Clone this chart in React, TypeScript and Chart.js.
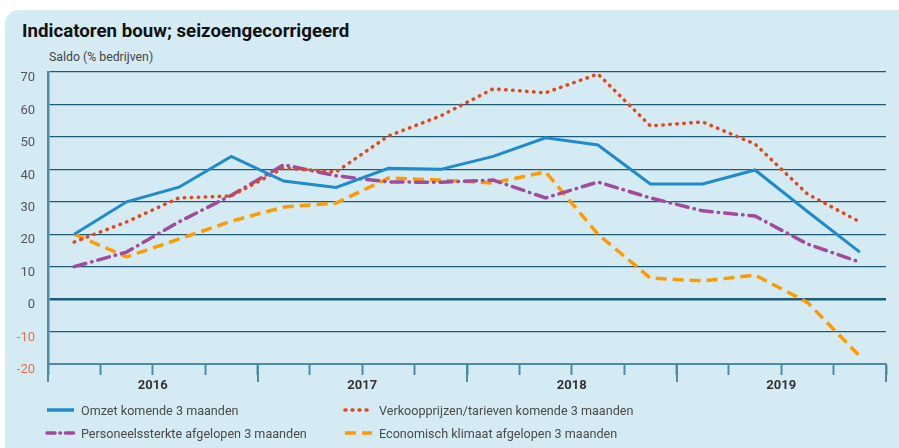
import React, { useEffect, useRef } from "react";
import { Chart, registerables } from "chart.js";
Chart.register(...registerables);

// Quarterly data 2016 K1 .. 2019 K4
const quarters = [
  "2016 K1", "2016 K2", "2016 K3", "2016 K4",
  "2017 K1", "2017 K2", "2017 K3", "2017 K4",
  "2018 K1", "2018 K2", "2018 K3", "2018 K4",
  "2019 K1", "2019 K2", "2019 K3", "2019 K4",
];
const yearLabels = ["2016", "2017", "2018", "2019"];
const yTicks = [-20, -10, 0, 10, 20, 30, 40, 50, 60, 70];

const omzet = [20, 30, 34.5, 44, 36.4, 34.4, 40.3, 40, 44, 49.7, 47.5, 35.5, 35.5, 39.8, 27, 14.5];
const verkoopprijzen = [17.6, 23.8, 31.2, 31.8, 40.4, 39.2, 50.3, 56.5, 64.8, 63.6, 69.4, 53.4, 54.6, 47.8, 32.4, 23.8];
const personeelssterkte = [10, 14.5, 23.8, 32, 41.4, 38, 36.1, 36, 36.7, 31.2, 36.1, 31.2, 27.2, 25.6, 17, 11.4];
const economischKlimaat = [20, 13, 18.5, 24, 28.4, 29.6, 37.3, 36.7, 35.8, 39.2, 20, 6.5, 5.6, 7.4, -1, -17.6];

const seriesNames = [
  "Omzet komende 3 maanden",
  "Verkoopprijzen/tarieven komende 3 maanden",
  "Personeelssterkte afgelopen 3 maanden",
  "Economisch klimaat afgelopen 3 maanden",
];

const BLUE = "#1e8bcc";
const RED = "#e2471c";
const PURPLE = "#a04b9e";
const ORANGE = "#ff9b00";
const GRID = "#1d5b79";
const AXIS = "#4f8ba5";
const FONT = "Roboto, 'Noto Sans', sans-serif";

const toPoints = (arr: number[]) => arr.map((v, i) => ({ x: i + 0.5, y: v }));

const majorTicks = {
  id: "majorTicks",
  afterDraw(chart: any) {
    const xs = chart.scales.x;
    const ctx = chart.ctx;
    const bottom = chart.chartArea.bottom;
    ctx.save();
    ctx.strokeStyle = AXIS;
    ctx.lineWidth = 2;
    for (let v = 0; v <= quarters.length; v += 4) {
      const px = Math.round(xs.getPixelForValue(v));
      ctx.beginPath();
      ctx.moveTo(px, bottom);
      ctx.lineTo(px, bottom + 18);
      ctx.stroke();
    }
    ctx.restore();
  },
};

const legendItems = [
  { name: seriesNames[0], color: BLUE, dash: "", cap: "butt", w: 3.5, x: 44, y: 410 },
  { name: seriesNames[1], color: RED, dash: "1 6", cap: "round", w: 3.5, x: 342, y: 410 },
  { name: seriesNames[2], color: PURPLE, dash: "8 5 0.5 5", cap: "round", w: 3.5, x: 44, y: 433 },
  { name: seriesNames[3], color: ORANGE, dash: "11 6", cap: "butt", w: 3.5, x: 342, y: 433 },
];

export default function App() {
  const ref = useRef<HTMLCanvasElement | null>(null);
  useEffect(() => {
    if (!ref.current) return;
    const chart = new Chart(ref.current, {
      type: "line",
      data: {
        datasets: [
          {
            label: seriesNames[0], data: toPoints(omzet), borderColor: BLUE, borderWidth: 3,
            pointRadius: 0, tension: 0, fill: false,
          },
          {
            label: seriesNames[1], data: toPoints(verkoopprijzen), borderColor: RED, borderWidth: 3.5,
            borderDash: [0.5, 6.5], borderCapStyle: "round", pointRadius: 0, tension: 0, fill: false,
          },
          {
            label: seriesNames[2], data: toPoints(personeelssterkte), borderColor: PURPLE, borderWidth: 3.5,
            borderDash: [12, 6, 0.5, 6], borderCapStyle: "round", pointRadius: 0, tension: 0, fill: false,
          },
          {
            label: seriesNames[3], data: toPoints(economischKlimaat), borderColor: ORANGE, borderWidth: 3.5,
            borderDash: [11, 6], pointRadius: 0, tension: 0, fill: false,
          },
        ] as any,
      },
      options: {
        animation: false,
        responsive: false,
        devicePixelRatio: 1,
        layout: { padding: { left: 0, right: 13, top: 72, bottom: 54 } },
        plugins: { legend: { display: false }, tooltip: { enabled: false }, title: { display: false } },
        scales: {
          x: {
            type: "linear",
            min: 0,
            max: quarters.length,
            afterBuildTicks: (scale: any) => {
              scale.ticks = Array.from({ length: quarters.length + 1 }, (_, i) => ({ value: i }));
            },
            afterFit: (scale: any) => { scale.height = 30; },
            grid: {
              drawOnChartArea: false,
              drawTicks: true,
              tickLength: 11,
              tickColor: AXIS,
              tickWidth: 2,
            },
            border: { color: AXIS, width: 2 },
            ticks: {
              autoSkip: false,
              maxRotation: 0,
              padding: 3,
              color: "#333",
              font: { family: FONT, size: 13, weight: "bold" },
              callback: (v: any) => {
                const n = Number(v);
                return n % 4 === 2 ? yearLabels[(n - 2) / 4] : "";
              },
            },
          },
          y: {
            min: -20,
            max: 70,
            afterBuildTicks: (scale: any) => {
              scale.ticks = yTicks.map((v) => ({ value: v }));
            },
            afterFit: (scale: any) => { scale.width = 48; },
            grid: {
              drawTicks: false,
              color: GRID,
              lineWidth: (c: any) => (c.tick && c.tick.value === 0 ? 2.5 : 1.3),
            },
            border: { color: AXIS, width: 2.5 },
            ticks: {
              padding: 13,
              labelOffset: 6,
              color: (c: any) => (c.tick && c.tick.value < 0 ? "#e8704e" : "#555"),
              font: { family: FONT, size: 13 },
            },
          },
        },
      },
      plugins: [majorTicks],
    });
    return () => chart.destroy();
  }, []);

  return (
    <div style={{ position: "absolute", left: 0, top: 0, width: 899, height: 448, overflow: "hidden", fontFamily: FONT }}>
      <div style={{ position: "absolute", left: 5, top: 10, width: 894, height: 438, background: "#d5ebf3", borderTopLeftRadius: 14 }} />
      <div style={{ position: "absolute", left: 22, top: 19, fontSize: 18.7, fontWeight: 700, color: "#111", whiteSpace: "nowrap", lineHeight: "24px" }}>
        Indicatoren bouw; seizoengecorrigeerd
      </div>
      <div style={{ position: "absolute", left: 49, top: 49, fontSize: 12.3, color: "#444", whiteSpace: "nowrap", lineHeight: "16px" }}>
        Saldo (% bedrijven)
      </div>
      <canvas ref={ref} width={899} height={448} style={{ position: "absolute", left: 0, top: 0, width: 899, height: 448 }} />
      {legendItems.map((it, i) => (
        <div key={i} style={{ position: "absolute", left: it.x, top: it.y - 9, height: 18, display: "flex", alignItems: "center", whiteSpace: "nowrap" }}>
          <svg width={32} height={18} style={{ display: "block" }}>
            <line x1={3} y1={9} x2={30} y2={9} stroke={it.color} strokeWidth={it.w} strokeDasharray={it.dash || undefined} strokeLinecap={it.cap as any} />
          </svg>
          <span style={{ marginLeft: 5, fontSize: 12.6, color: "#4a4a4a" }}>{it.name}</span>
        </div>
      ))}
    </div>
  );
}
